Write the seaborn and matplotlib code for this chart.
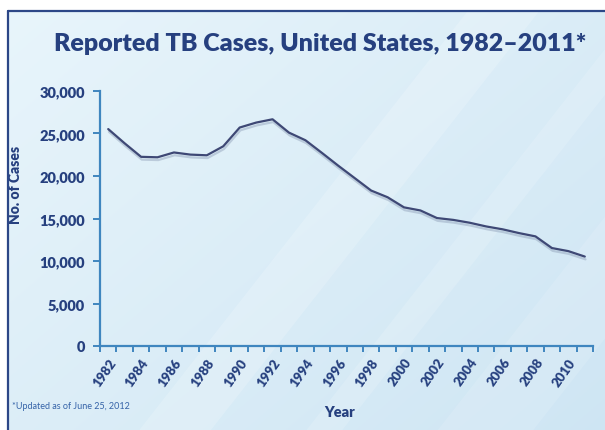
import numpy as np
import matplotlib
matplotlib.use("Agg")
import matplotlib.pyplot as plt
import matplotlib.patheffects as pe
from matplotlib.lines import Line2D
from matplotlib.ticker import FixedLocator, FuncFormatter
import seaborn as sns

# Reported TB cases, United States, 1982-2011
years = list(range(1982, 2012))
cases = [25520, 23846, 22255, 22201, 22768, 22517, 22436, 23495, 25701, 26283,
         26673, 25102, 24206, 22726, 21210, 19751, 18287, 17500, 16309, 15945,
         15055, 14835, 14499, 14065, 13727, 13282, 12895, 11523, 11161, 10521]
label_years = list(range(1982, 2011, 2))
y_ticks = [0, 5000, 10000, 15000, 20000, 25000, 30000]

sns.set_style("white")
plt.rcParams['font.family'] = ['Lato', 'DejaVu Sans']

navy = '#26407f'
axis_blue = '#3f86bf'
line_col = '#3e4875'

W, H = 605, 431
fig = plt.figure(figsize=(W / 100, H / 100), dpi=100)
fig.patch.set_facecolor('white')

# --- background panel (light blue gradient with soft diagonal streaks) ---
bg = fig.add_axes([8 / W, 0, 1 - 8 / W, 1 - 12 / H])
bg.set_axis_off()
gx, gy = np.meshgrid(np.linspace(0, 1, 300), np.linspace(0, 1, 220))
grad = 0.55 * gx + 0.45 * gy
c1 = np.array([0.91, 0.96, 0.985])
c2 = np.array([0.81, 0.90, 0.955])
img = c1[None, None, :] * (1 - grad[..., None]) + c2[None, None, :] * grad[..., None]
bg.imshow(img, extent=[0, 1, 0, 1], origin='upper', aspect='auto')
for x0, w, a in [(0.22, 0.12, 0.18), (0.50, 0.06, 0.15), (0.72, 0.16, 0.12)]:
    bg.fill([x0, x0 + w, x0 + w + 0.55, x0 + 0.55], [0, 0, 1, 1],
            color='white', alpha=a, lw=0)
bg.set_xlim(0, 1)
bg.set_ylim(0, 1)

# frame lines (top and left)
fig.add_artist(Line2D([8 / W, 1], [1 - 12 / H, 1 - 12 / H], color='#2c4787', lw=1.6))
fig.add_artist(Line2D([8 / W, 8 / W], [0, 1 - 12 / H], color='#2c4787', lw=1.6))

# --- main chart ---
ax = fig.add_axes([100 / W, 1 - 347 / H, 493 / W, 255 / H])
ax.patch.set_alpha(0)
sns.lineplot(x=years, y=cases, ax=ax, color=line_col, lw=1.6,
             path_effects=[pe.SimpleLineShadow(offset=(0.5, -2), shadow_color='#8e9fb8', alpha=0.45),
                           pe.Normal()])

ax.set_xlim(1981.5, 2011.5)
ax.set_ylim(0, 30000)
ax.set_yticks(y_ticks)
ax.yaxis.set_major_formatter(FuncFormatter(lambda v, p: f'{int(v):,}'))
ax.set_xticks(label_years)
ax.set_xticklabels([str(y) for y in label_years], rotation=55, ha='right',
                   rotation_mode='anchor')
ax.xaxis.set_minor_locator(FixedLocator(np.arange(1981.5, 2012, 1)))

for s in ['top', 'right']:
    ax.spines[s].set_visible(False)
for s in ['left', 'bottom']:
    ax.spines[s].set_color(axis_blue)
    ax.spines[s].set_linewidth(1.6)

ax.tick_params(axis='y', which='major', length=5, width=1.4, color=axis_blue,
               labelcolor=navy, labelsize=10.5, pad=6, left=True)
ax.tick_params(axis='x', which='major', length=0, labelcolor=navy, labelsize=9.5, pad=7)
ax.tick_params(axis='x', which='minor', length=4, width=1.4, color=axis_blue, bottom=True)
for t in ax.get_yticklabels() + ax.get_xticklabels():
    t.set_fontweight('heavy')
ax.grid(False)

ax.set_xlabel('Year', color=navy, fontsize=10.5, fontweight='heavy')
ax.set_ylabel('No. of Cases', color=navy, fontsize=10, fontweight='heavy')
ax.xaxis.set_label_coords((340 - 100) / 493, -(406 - 347) / 255)
ax.yaxis.set_label_coords(-(100 - 22) / 493, (347 - 185) / 255)

fig.text(320 / W, 1 - 44 / H, 'Reported TB Cases, United States, 1982\u20132011*',
         ha='center', va='center', fontsize=18, fontweight='heavy', color=navy)
fig.text(12 / W, 1 - 407 / H, '*Updated as of June 25, 2012', ha='left', va='center',
         fontsize=6.5, color='#3563a8')

fig.savefig('out.png', dpi=100)
